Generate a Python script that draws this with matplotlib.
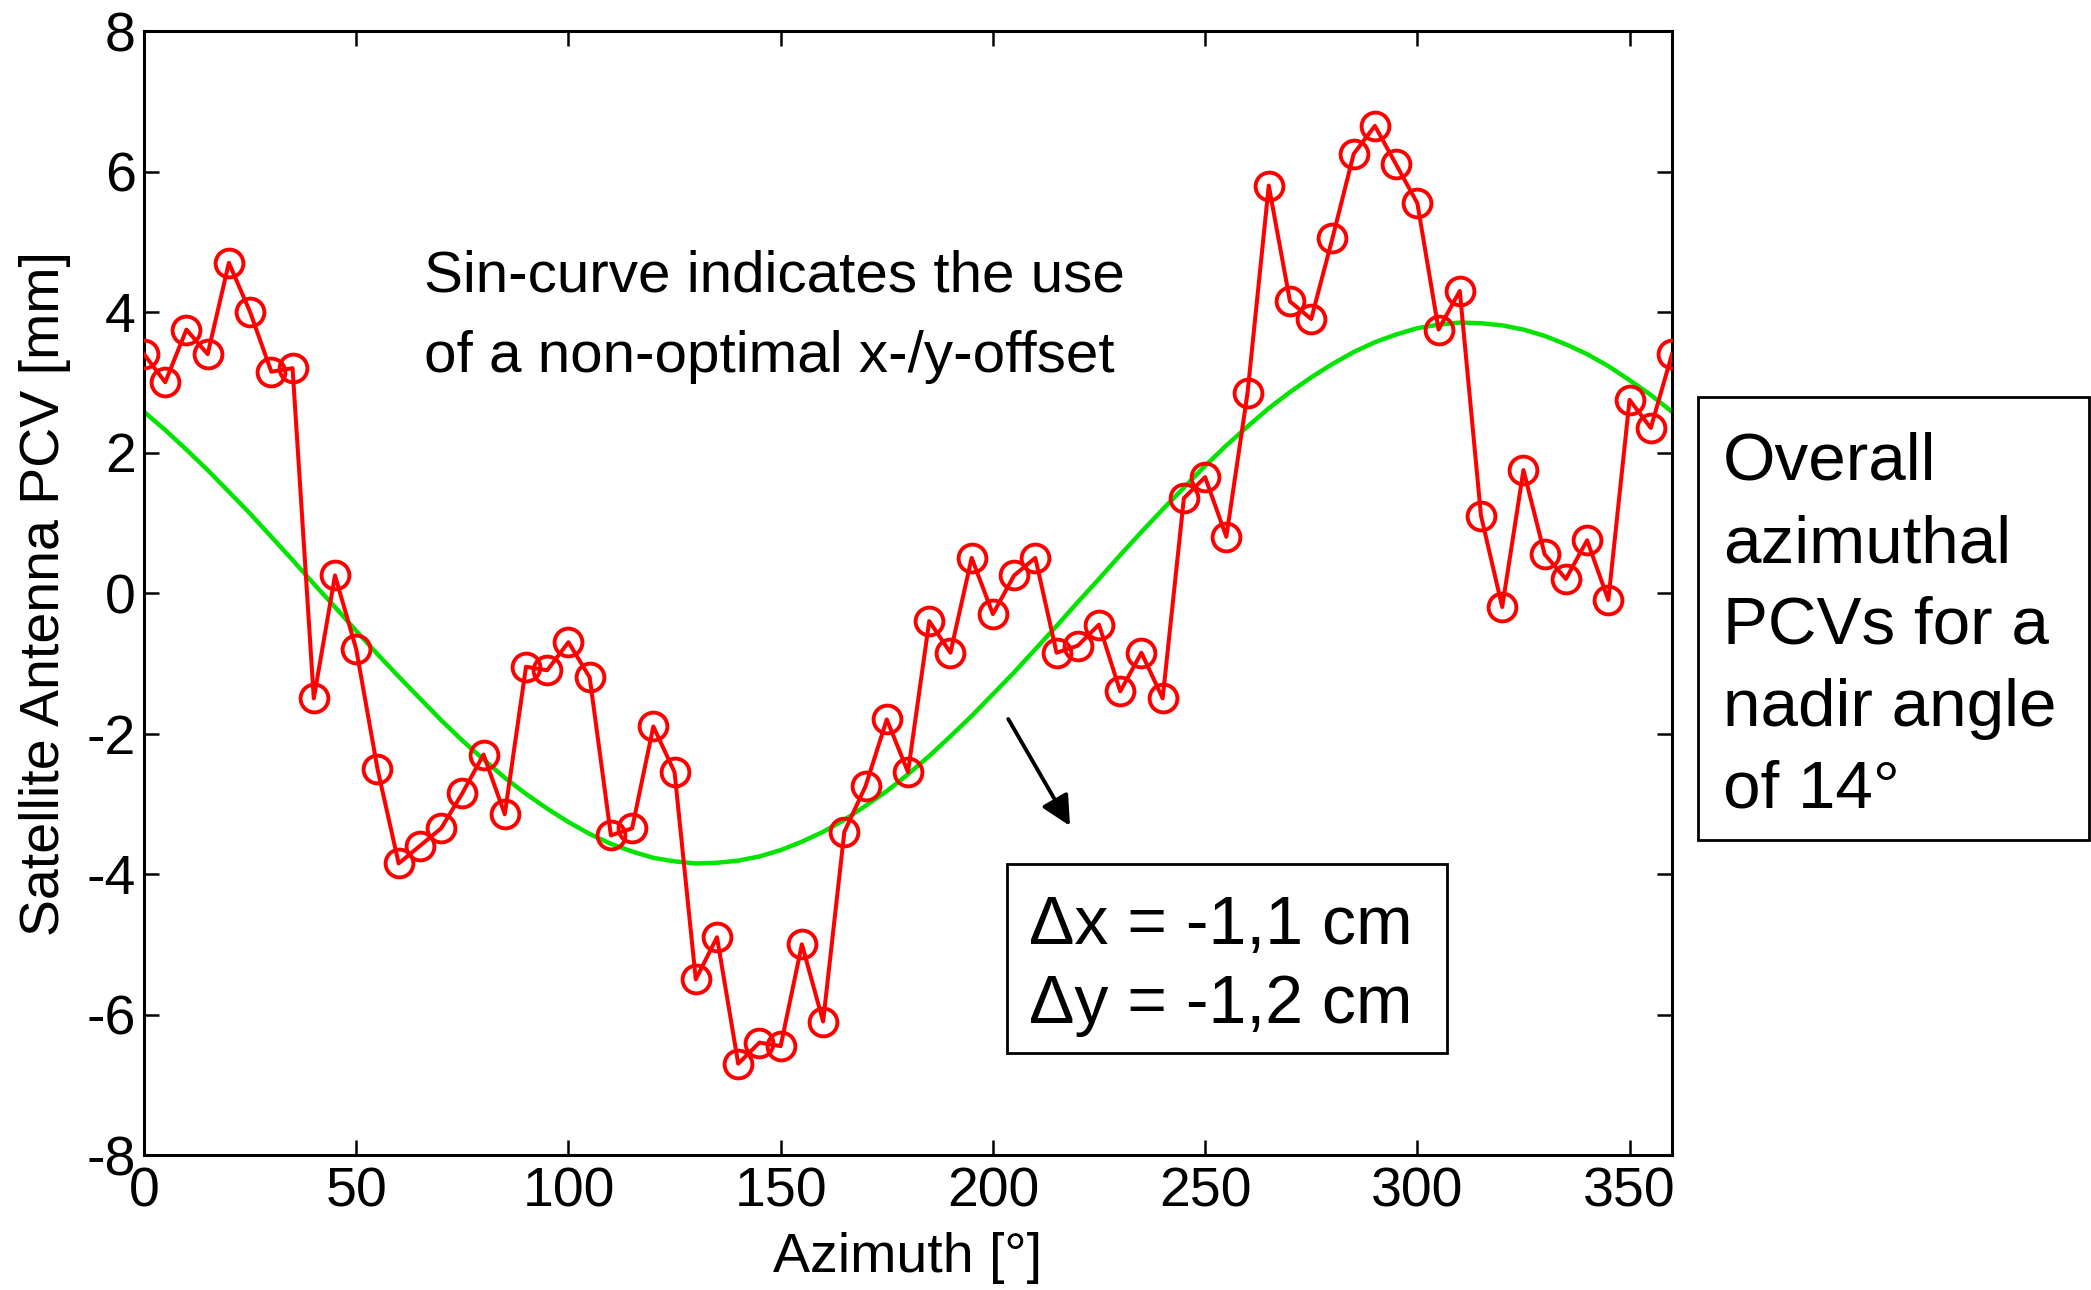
import numpy as np
import matplotlib
matplotlib.use('Agg')
import matplotlib.pyplot as plt
from matplotlib.patches import Rectangle

plt.rcParams['font.family'] = ['Liberation Sans', 'DejaVu Sans']
plt.rcParams['axes.unicode_minus'] = False

# azimuth in degrees, PCV in mm
azimuth = list(range(0, 361, 5))
pcv = [3.4, 3.0, 3.75, 3.4, 4.7, 4.0, 3.15, 3.2, -1.5, 0.25,
       -0.8, -2.5, -3.85, -3.6, -3.35, -2.85, -2.3, -3.15, -1.05, -1.1,
       -0.7, -1.2, -3.45, -3.35, -1.9, -2.55, -5.5, -4.9, -6.7, -6.4,
       -6.45, -5.0, -6.1, -3.4, -2.75, -1.8, -2.55, -0.4, -0.85, 0.5,
       -0.3, 0.25, 0.5, -0.85, -0.75, -0.45, -1.4, -0.85, -1.5, 1.35,
       1.65, 0.8, 2.85, 5.8, 4.15, 3.9, 5.05, 6.25, 6.65, 6.1,
       5.55, 3.75, 4.3, 1.1, -0.2, 1.75, 0.55, 0.2, 0.75, -0.1,
       2.75, 2.35, 3.4]
# green sin-curve, same azimuth grid
sin_fit = [2.58, 2.32, 2.04, 1.75, 1.44, 1.13, 0.80, 0.47, 0.13, -0.20,
           -0.54, -0.87, -1.19, -1.50, -1.81, -2.10, -2.37, -2.63, -2.86, -3.07,
           -3.26, -3.43, -3.57, -3.68, -3.77, -3.82, -3.85, -3.84, -3.81, -3.75,
           -3.66, -3.54, -3.40, -3.23, -3.03, -2.82, -2.58, -2.32, -2.04, -1.75,
           -1.44, -1.13, -0.80, -0.47, -0.13, 0.20, 0.54, 0.87, 1.19, 1.50,
           1.81, 2.10, 2.37, 2.63, 2.86, 3.07, 3.26, 3.43, 3.57, 3.68,
           3.77, 3.82, 3.85, 3.84, 3.81, 3.75, 3.66, 3.54, 3.40, 3.23,
           3.03, 2.82, 2.58]

xticks = [0, 50, 100, 150, 200, 250, 300, 350]
yticks = [-8, -6, -4, -2, 0, 2, 4, 6, 8]

W, H = 2091, 1290


def fx(px):
    return px / W


def fy(py):
    return 1 - py / H


fig = plt.figure(figsize=(W / 100, H / 100), dpi=100)
ax = fig.add_axes([fx(144), fy(1155), fx(1672) - fx(144), fy(31) - fy(1155)])

ax.plot(azimuth, sin_fit, color='#00e400', lw=3.2, zorder=2)
ax.plot(azimuth, pcv, color='red', lw=2.9, marker='o', markersize=20,
        markerfacecolor='none', markeredgecolor='red', markeredgewidth=2.8,
        zorder=3)

ax.set_xlim(0, 360)
ax.set_ylim(-8, 8)
ax.set_xticks(xticks)
ax.set_yticks(yticks)
ax.tick_params(direction='in', length=11, width=1.8, labelsize=40,
               top=True, right=True)
ax.tick_params(axis='x', pad=8)
ax.tick_params(axis='y', pad=6)
for s in ax.spines.values():
    s.set_linewidth(2.2)

ax.set_xlabel('Azimuth [°]', fontsize=40, labelpad=10)
ax.set_ylabel('Satellite Antenna PCV [mm]', fontsize=40, labelpad=11)

# note inside the plot
ax.text(66, 4.5, 'Sin-curve indicates the use', fontsize=42, va='center')
ax.text(66, 3.36, 'of a non-optimal x-/y-offset', fontsize=42, va='center')

ax.annotate('', xy=(218.5, -3.35), xytext=(203.3, -1.76),
            arrowprops=dict(arrowstyle='-|>', color='k', lw=2.8,
                            mutation_scale=45))

# offset box
fig.patches.append(Rectangle((fx(1007), fy(1053)), fx(1447) - fx(1007),
                             fy(864) - fy(1053), transform=fig.transFigure,
                             fill=False, ec='k', lw=2))
fig.text(fx(1029), fy(944), 'Δx = -1,1 cm', fontsize=49, va='baseline')
fig.text(fx(1029), fy(1023), 'Δy = -1,2 cm', fontsize=49, va='baseline')

# side box
fig.patches.append(Rectangle((fx(1698), fy(840)), fx(2089) - fx(1698),
                             fy(397) - fy(840), transform=fig.transFigure,
                             fill=False, ec='k', lw=2))
side_lines = ['Overall', 'azimuthal', 'PCVs for a', 'nadir angle', 'of 14°']
for i, line in enumerate(side_lines):
    fig.text(fx(1723), fy(480 + 82 * i), line, fontsize=48.5, va='baseline')

fig.savefig('out.png', dpi=100)
